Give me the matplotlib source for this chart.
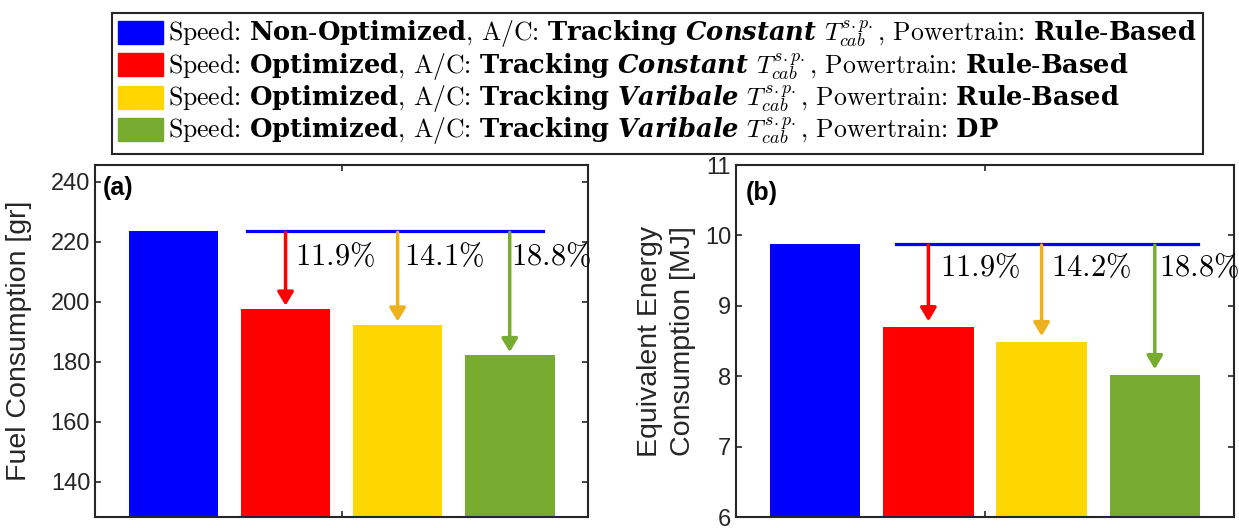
import matplotlib
matplotlib.use("Agg")
import matplotlib.pyplot as plt
from matplotlib.patches import Patch

plt.rcParams["mathtext.fontset"] = "custom"
plt.rcParams["mathtext.rm"] = "cmr10"
plt.rcParams["mathtext.it"] = "cmmi10"
plt.rcParams["mathtext.bf"] = "DejaVu Serif:bold"
plt.rcParams["mathtext.bfit"] = "DejaVu Serif:italic:bold"
plt.rcParams["font.family"] = ["Liberation Sans", "DejaVu Sans"]

# data
positions = [1, 2, 3, 4]
fuel = [223.6, 197.7, 192.4, 182.2]
energy = [9.88, 8.70, 8.49, 8.02]
fuel_pct = ["11.9", "14.1", "18.8"]
energy_pct = ["11.9", "14.2", "18.8"]

bar_colors = ["#0000FF", "#FF0000", "#FFD700", "#77AC30"]
arrow_colors = ["#FF0000", "#EDB120", "#77AC30"]

TSP = r"$T_{cab}^{s{.}p{.}}$"
legend_labels = [
    r"Speed: $\mathbf{Non}$-$\mathbf{Optimized}$, A/C: $\mathbf{Tracking}$ $\mathbfit{Constant}$ " + TSP + r", Powertrain: $\mathbf{Rule}$-$\mathbf{Based}$",
    r"Speed: $\mathbf{Optimized}$, A/C: $\mathbf{Tracking}$ $\mathbfit{Constant}$ " + TSP + r", Powertrain: $\mathbf{Rule}$-$\mathbf{Based}$",
    r"Speed: $\mathbf{Optimized}$, A/C: $\mathbf{Tracking}$ $\mathbfit{Varibale}$ " + TSP + r", Powertrain: $\mathbf{Rule}$-$\mathbf{Based}$",
    r"Speed: $\mathbf{Optimized}$, A/C: $\mathbf{Tracking}$ $\mathbfit{Varibale}$ " + TSP + r", Powertrain: $\mathbf{DP}$",
]

DARK = "#262626"


def style_axes(ax):
    for s in ax.spines.values():
        s.set_color(DARK)
        s.set_linewidth(1.5)
    ax.tick_params(axis="both", direction="in", length=4, width=1.2,
                   colors=DARK, labelsize=17, left=True, right=True,
                   top=True, bottom=True, labelbottom=False)
    ax.set_xlim(0.3, 4.7)
    ax.set_xticks([2.5])


def draw_panel(ax, vals, pcts, line_x, text_x, text_y, tip_gap):
    ax.bar(positions, vals, width=0.8, color=bar_colors, zorder=2)
    ax.plot(line_x, [vals[0], vals[0]], color="#0000FF", lw=2.3, zorder=3)
    for i in range(3):
        x = positions[i + 1]
        ax.annotate("", xy=(x, vals[i + 1] + tip_gap), xytext=(x, vals[0]),
                    arrowprops=dict(arrowstyle="-|>,head_length=0.5,head_width=0.3",
                                    color=arrow_colors[i], lw=2.5,
                                    mutation_scale=16, shrinkA=1, shrinkB=0),
                    zorder=4)
        ax.text(text_x[i], text_y, r"$%s\%%$" % pcts[i], fontsize=22,
                ha="left", va="center", zorder=5)


fig = plt.figure(figsize=(12.39, 5.28), dpi=100)
ax1 = fig.add_axes([0.0767, 0.0208, 0.398, 0.6667])
ax2 = fig.add_axes([0.594, 0.0208, 0.402, 0.6667])

draw_panel(ax1, fuel, fuel_pct, [1.66, 4.3], [2.08, 3.06, 4.01], 215, 1.0)
style_axes(ax1)
ax1.set_ylim(128.2, 245.6)
ax1.set_yticks([140, 160, 180, 200, 220, 240])
ax1.set_ylabel("Fuel Consumption [gr]", fontsize=20.5, color=DARK)
ax1.yaxis.set_label_coords(-0.128, 0.5)
ax1.text(0.016, 0.935, "(a)", transform=ax1.transAxes, fontsize=18,
         fontweight="bold", ha="left", va="center")

draw_panel(ax2, energy, energy_pct, [1.71, 4.38], [2.10, 3.08, 4.04], 9.53, 0.08)
style_axes(ax2)
ax2.set_ylim(6, 11)
ax2.set_yticks([6, 7, 8, 9, 10, 11])
ax2.set_ylabel("Equivalent Energy\nConsumption [MJ]", fontsize=20.5,
               color=DARK, linespacing=1.35)
ax2.yaxis.set_label_coords(-0.08, 0.5)
ax2.text(0.02, 0.92, "(b)", transform=ax2.transAxes, fontsize=18,
         fontweight="bold", ha="left", va="center")

handles = [Patch(facecolor=c, edgecolor=c) for c in bar_colors]
leg = fig.legend(handles, legend_labels, loc="upper center",
                 bbox_to_anchor=(0.5307, 0.976), fancybox=False,
                 prop={"family": "cmr10", "size": 18.5},
                 handlelength=1.75, handleheight=1.0, handletextpad=0.2,
                 labelspacing=0.05, borderpad=0.25, borderaxespad=0.0,
                 edgecolor=DARK, framealpha=1.0)
leg.get_frame().set_linewidth(1.5)

fig.savefig("out.png", dpi=100)
